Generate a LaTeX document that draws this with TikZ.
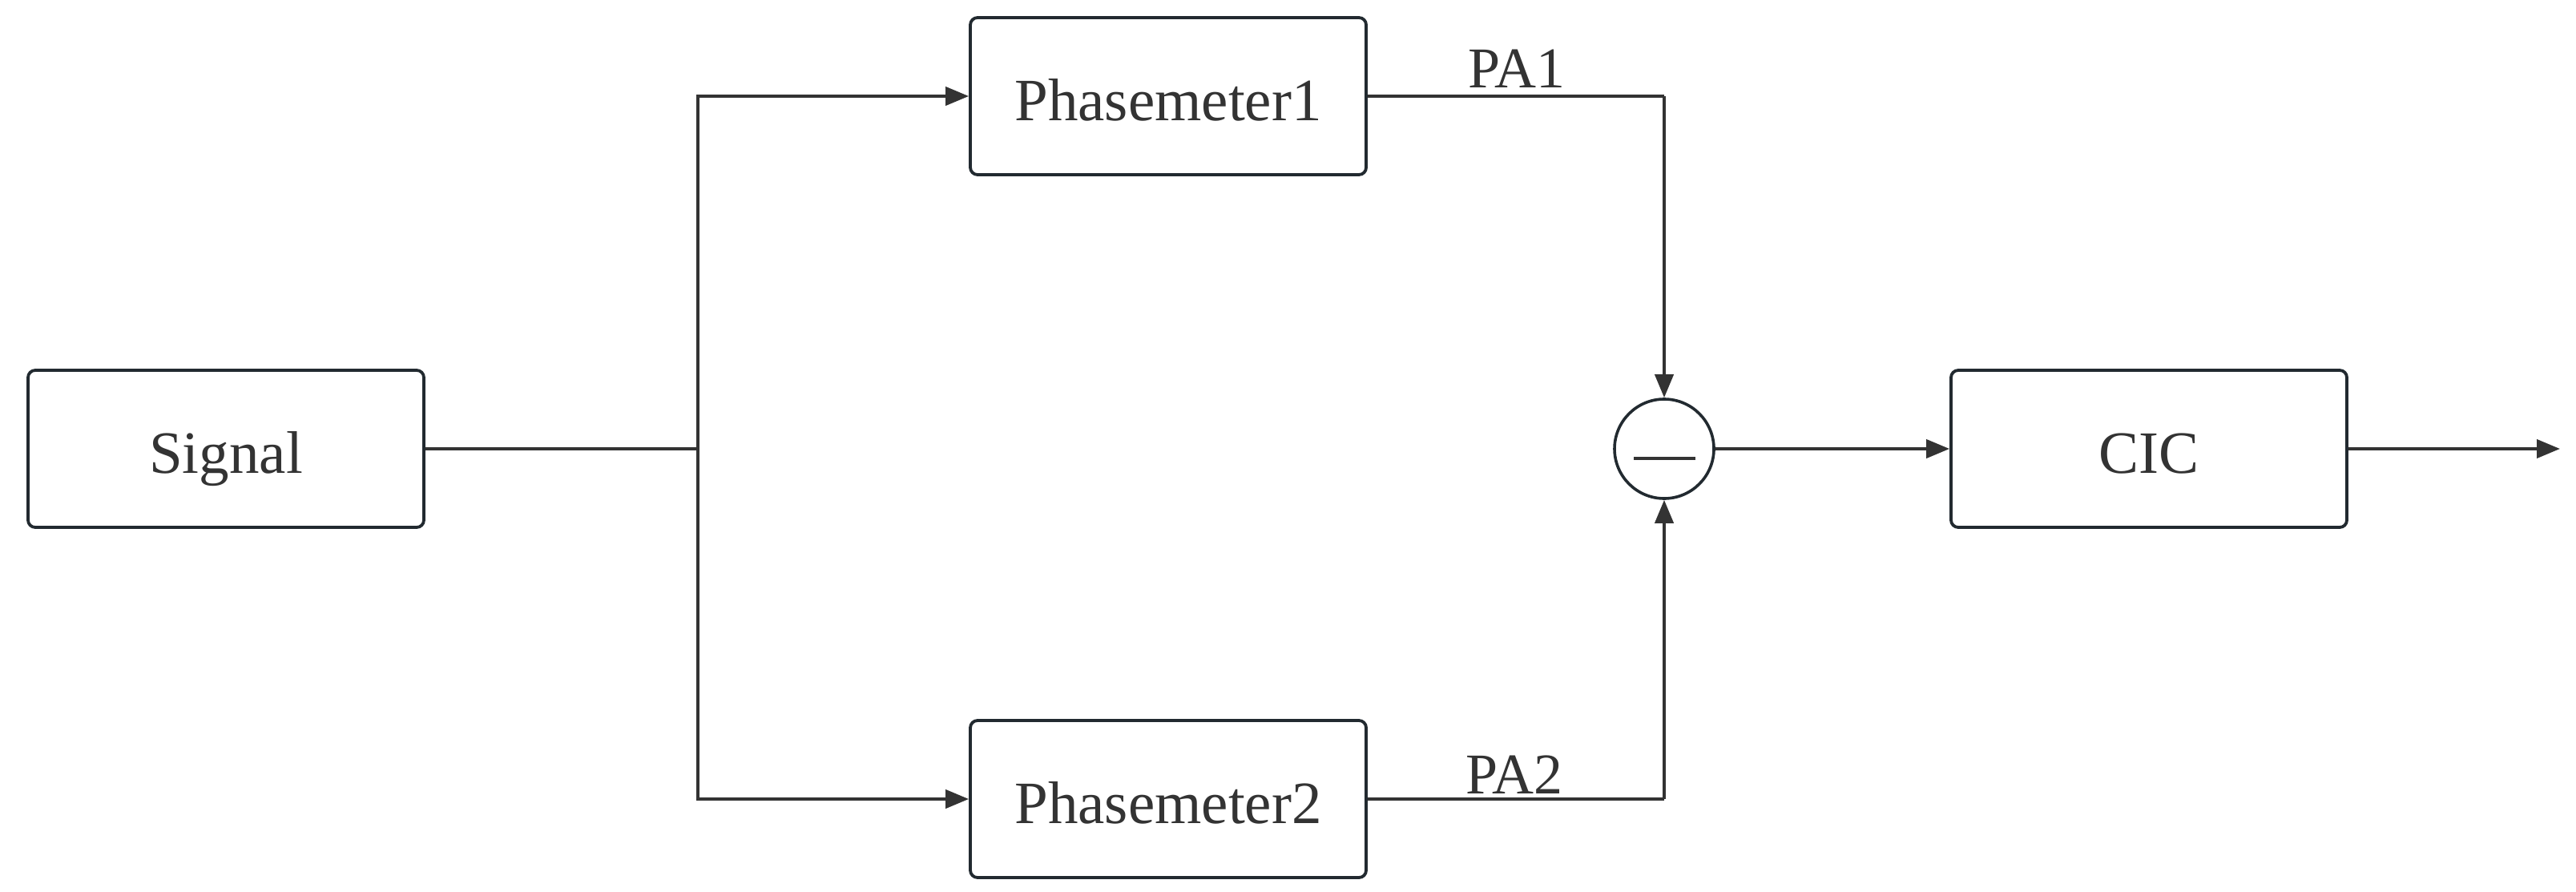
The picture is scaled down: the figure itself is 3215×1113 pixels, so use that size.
\documentclass[tikz,border=0pt]{standalone}
\usepackage{fontspec}
\setmainfont{Liberation Serif}
\usetikzlibrary{arrows.meta}
\definecolor{ln}{HTML}{333333}
\definecolor{bd}{HTML}{222A30}
\begin{document}
\begin{tikzpicture}[x=1pt,y=-1pt,
  blk/.style={draw=bd,line width=3.8pt,rounded corners=9pt,minimum width=494pt,minimum height=196pt,inner sep=0pt,text height=60pt,text depth=0pt,text=ln,font=\fontsize{75}{90}\selectfont},
  conn/.style={draw=ln,line width=4pt},
  arr/.style={conn,-{Triangle[length=29pt,width=23pt]}},
  lbl/.style={text=ln,font=\fontsize{72}{86}\selectfont,inner sep=0pt}]
\useasboundingbox (0,0) rectangle (3215,1113);
\node[blk] (sig) at (282,560) {Signal};
\node[blk] (ph1) at (1458,120) {Phasemeter1};
\node[blk] (ph2) at (1458,997) {Phasemeter2};
\node[blk] (cic) at (2682,560) {CIC};
\node[draw=bd,line width=3.6pt,circle,minimum size=124pt,inner sep=0pt] (sub) at (2077,560) {};
\draw[ln,line width=4.5pt] (2039,572) -- (2116,572);
\coordinate (br) at (871,560);
\coordinate (c1) at (2077,120);
\coordinate (c2) at (2077,997);
\coordinate (out) at (3195,560);
\draw[conn] (sig.east) -- (br);
\draw[arr] (br) |- (ph1.west);
\draw[arr] (br) |- (ph2.west);
\draw[conn] (ph1.east) -- (c1);
\draw[arr] (c1) -- (sub.north);
\draw[conn] (ph2.east) -- (c2);
\draw[arr] (c2) -- (sub.south);
\draw[arr] (sub.east) -- (cic.west);
\draw[arr] (cic.east) -- (out);
\node[lbl,anchor=base] (pa1) at (1893,110) {PA1};
\node[lbl,anchor=base] (pa2) at (1890,990) {PA2};
\end{tikzpicture}
\end{document}
